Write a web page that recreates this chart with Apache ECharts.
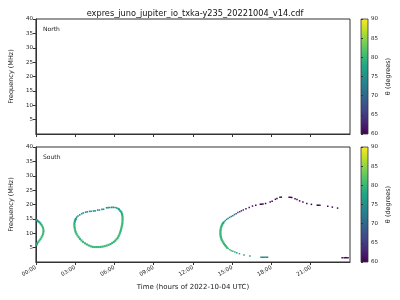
<!DOCTYPE html>
<html><head><meta charset="utf-8">
<script src="https://cdn.jsdelivr.net/npm/echarts@6/dist/echarts.min.js"></script>
<style>html,body{margin:0;padding:0;background:#fff}#c{width:400px;height:300px}</style>
</head><body><div id="c"></div>
<script>
const chartTitle = 'expres_juno_jupiter_io_txka-y235_20221004_v14.cdf';
const xAxisTitle = 'Time (hours of 2022-10-04 UTC)';
const yAxisTitle = 'Frequency (MHz)';
const cbarTitle = 'θ (degrees)';
const panelNames = ['North', 'South'];
const xTicks = [0, 3, 6, 9, 12, 15, 18, 21];
const yTicks = [5, 10, 15, 20, 25, 30, 35, 40];
const cbarTicks = [60, 65, 70, 75, 80, 85, 90];

// North hemisphere: no emission
const northPoints = [];

// South hemisphere: [hour, frequency MHz, theta deg]
const loopA = [
  [0.05,14.6,75],[0.12,14.35,75],[0.2,14.05,76],[0.28,13.75,77],[0.36,13.35,78],[0.43,12.9,79],
  [0.49,12.4,80],[0.54,11.9,80],[0.57,11.35,80],[0.58,10.8,80],[0.57,10.25,80],[0.54,9.7,80],
  [0.49,9.15,80],[0.43,8.6,80],[0.36,8.05,80],[0.28,7.55,80],[0.2,7.1,80],[0.13,6.7,79],
  [0.08,6.3,78],[0.05,6.0,77]
];
const loopBDense = [
  [6.35,18.3,77],[6.45,17.8,78],[6.53,17.3,78],[6.58,16.7,79],[6.6,16.2,79],[6.62,15.6,80],
  [6.62,15.0,80],[6.62,14.4,80],[6.61,13.8,80],[6.6,13.2,80],[6.57,12.6,80],[6.54,12.0,80],
  [6.51,11.4,80],[6.47,10.8,80],[6.43,10.2,80],[6.38,9.6,80],[6.32,9.0,80],[6.25,8.4,80],
  [6.16,7.9,80],[6.06,7.4,80],[5.95,7.0,80],[5.83,6.6,80],[5.7,6.25,80],[5.55,5.95,80],
  [5.4,5.7,80],[5.25,5.5,80],[5.1,5.35,80],[4.95,5.25,80],[4.8,5.2,80],[4.65,5.2,80],
  [4.5,5.2,80],[4.35,5.25,80],[4.2,5.45,80],[4.05,5.75,80],[3.9,6.1,80],[3.75,6.5,80],
  [3.6,7.0,80],[3.48,7.5,80],[3.37,8.05,80],[3.27,8.6,80],[3.18,9.2,80],[3.1,9.8,80],
  [3.04,10.4,80],[3.0,11.0,80],[2.97,11.6,80],[2.95,12.2,80],[2.94,12.8,80],[2.94,13.4,79],
  [2.97,14.0,78],[3.0,14.5,77],[3.05,15.0,76]
];
const loopBSparse = [
  [3.12,15.6,75],[3.22,16.0,75],[3.35,16.4,75],[3.5,16.8,75],[3.62,17.05,75],[3.8,17.3,75],
  [3.92,17.45,75],[4.1,17.6,75],[4.22,17.65,75],[4.4,17.75,75],[4.52,17.8,75],[4.72,18.05,75],
  [4.85,18.1,75],[5.05,18.3,75],[5.17,18.35,75],[5.4,18.85,75],[5.52,18.9,75],[5.65,18.95,75],
  [5.8,19.0,75],[5.92,19.0,75],[6.05,18.95,76],[6.17,18.8,76],[6.27,18.6,76]
];
const arcCDense = [
  [14.6,5.0,80],[14.52,5.45,80],[14.45,5.85,80],[14.38,6.3,80],[14.32,6.75,80],[14.26,7.2,80],
  [14.2,7.7,80],[14.16,8.2,80],[14.13,8.7,80],[14.11,9.2,80],[14.1,9.7,80],[14.1,10.2,80],
  [14.1,10.7,80],[14.11,11.2,80],[14.13,11.7,80],[14.16,12.2,80],[14.2,12.7,79],[14.25,13.15,79],
  [14.31,13.6,78]
];
const arcCSparse = [
  [17.7,1.65,74],[17.6,1.65,74],[17.5,1.65,74],[17.4,1.65,74],[17.3,1.65,74],[17.2,1.65,74],
  [16.35,2.1,76],[15.9,2.4,77],[15.55,2.9,78],[15.35,3.2,78],[15.2,3.5,79],[15.05,3.75,79],
  [14.93,3.95,80],[14.82,4.3,80],[14.7,4.7,80],
  [14.38,14.0,77],[14.47,14.4,76],[14.57,14.8,75],[14.68,15.1,74],[14.8,15.5,73],[14.92,15.8,72],
  [15.05,16.1,71],[15.17,16.5,70],[15.3,16.8,68],[15.43,17.2,66],[15.57,17.5,65],[15.7,17.8,64],
  [15.85,18.1,63],[16.05,18.5,62],[16.3,19.0,61],[16.55,19.45,61],[16.8,19.7,60],[17.15,20.1,60],
  [17.25,20.1,60],[17.35,20.15,60],[17.55,20.35,60],[17.9,20.9,60],[18.05,21.15,60],[18.3,21.8,60],
  [18.42,22.05,60],[18.65,22.5,60],[18.75,22.55,60],[19.35,22.55,60],[19.45,22.5,60],[19.55,22.4,60],
  [19.8,22.0,60],[19.95,21.7,60],[20.15,21.25,60],[20.4,20.9,60],[20.7,20.35,60],[21.05,20.05,60],
  [21.5,19.75,60],[21.6,19.75,60],[21.7,19.7,60],[22.3,19.4,60],[22.65,19.1,60],[23.05,18.75,60],
  [23.4,1.5,60],[23.55,1.5,60],[23.65,1.5,60],[23.75,1.5,60],[23.85,1.5,60]
];

const viridis = ['#440154','#482475','#414487','#355f8d','#2a788e','#21918c','#22a884','#44bf70','#7ad151','#bddf26','#fde725'];
const FONT = 'DejaVu Sans';
const AX = '#333';
const pad = v => (v < 10 ? '0' : '') + v;

const panels = [{top: 19}, {top: 147}];
const gridL = 31, gridW = 319, gridH = 115;
const cbL = 361, cbW = 7;

const grids = [], xAxes = [], yAxes = [], series = [];
panels.forEach((p, i) => {
  grids.push({left: gridL, top: p.top, width: gridW, height: gridH, show: true, borderColor: AX, borderWidth: 1, backgroundColor: '#fff'});
  xAxes.push({
    gridIndex: i, type: 'value', min: 0, max: 24,
    axisLine: {show: true, lineStyle: {color: AX, width: 1}},
    axisTick: {show: true, length: 3, lineStyle: {color: AX}, customValues: xTicks},
    axisLabel: {show: i === 1, rotate: 30, fontSize: 5.5, fontFamily: FONT, color: '#222', margin: 5,
      customValues: xTicks, formatter: v => pad(v) + ':00'},
    splitLine: {show: false},
    name: i === 1 ? xAxisTitle : '', nameLocation: 'middle', nameGap: 22,
    nameTextStyle: {fontSize: 7, fontFamily: FONT, color: '#222'}
  });
  yAxes.push({
    gridIndex: i, type: 'value', min: 0, max: 40,
    axisLine: {show: true, lineStyle: {color: AX, width: 1}},
    axisTick: {show: true, length: 3, lineStyle: {color: AX}, customValues: yTicks},
    axisLabel: {fontSize: 5.5, fontFamily: FONT, color: '#222', margin: 3, customValues: yTicks},
    splitLine: {show: false},
    name: yAxisTitle, nameLocation: 'middle', nameGap: 17,
    nameTextStyle: {fontSize: 6.5, fontFamily: FONT, color: '#222'}
  });
});
// colorbars
panels.forEach((p, i) => {
  grids.push({left: cbL, top: p.top, width: cbW, height: gridH, show: true, borderColor: AX, borderWidth: 0.8,
    backgroundColor: {type: 'linear', x: 0, y: 1, x2: 0, y2: 0,
      colorStops: viridis.map((c, k) => ({offset: k / (viridis.length - 1), color: c}))}});
  xAxes.push({gridIndex: 2 + i, type: 'value', min: 0, max: 1, show: false});
  yAxes.push({
    gridIndex: 2 + i, type: 'value', min: 60, max: 90, interval: 5, position: 'right',
    axisLine: {show: false},
    axisTick: {show: true, length: 2, lineStyle: {color: AX}, customValues: cbarTicks},
    axisLabel: {fontSize: 5.5, fontFamily: FONT, color: '#222', margin: 3, customValues: cbarTicks},
    splitLine: {show: false},
    name: cbarTitle, nameLocation: 'middle', nameGap: 17, nameRotate: 90,
    nameTextStyle: {fontSize: 6.5, fontFamily: FONT, color: '#222'}
  });
});

const mk = (data, gi, size) => ({
  type: 'scatter', xAxisIndex: gi, yAxisIndex: gi, data: data, symbol: 'rect', symbolSize: size,
  silent: true, animation: false, itemStyle: {opacity: 1}
});
series.push(mk(northPoints, 0, 2));
series.push(mk(loopA, 1, 2));
series.push(mk(loopBDense, 1, 2.1));
series.push(mk(loopBSparse, 1, 1.6));
series.push(mk(arcCDense, 1, 2.1));
series.push(mk(arcCSparse, 1, 1.5));

const chart = echarts.init(document.getElementById('c'), null, {renderer: 'canvas'});
chart.setOption({
  animation: false,
  backgroundColor: '#fff',
  title: {text: chartTitle, left: 190, top: 5, textAlign: 'center',
    textStyle: {fontSize: 8.2, fontWeight: 'normal', fontFamily: FONT, color: '#111'}},
  grid: grids, xAxis: xAxes, yAxis: yAxes,
  visualMap: {type: 'continuous', show: false, dimension: 2, min: 60, max: 90,
    seriesIndex: [0,1,2,3,4,5], inRange: {color: viridis}},
  graphic: panelNames.map((t, i) => ({type: 'text', left: 43, top: panels[i].top + 7,
    style: {text: t, fontSize: 6, fontFamily: FONT, fill: '#222'}})),
  series: series
});
</script></body></html>
